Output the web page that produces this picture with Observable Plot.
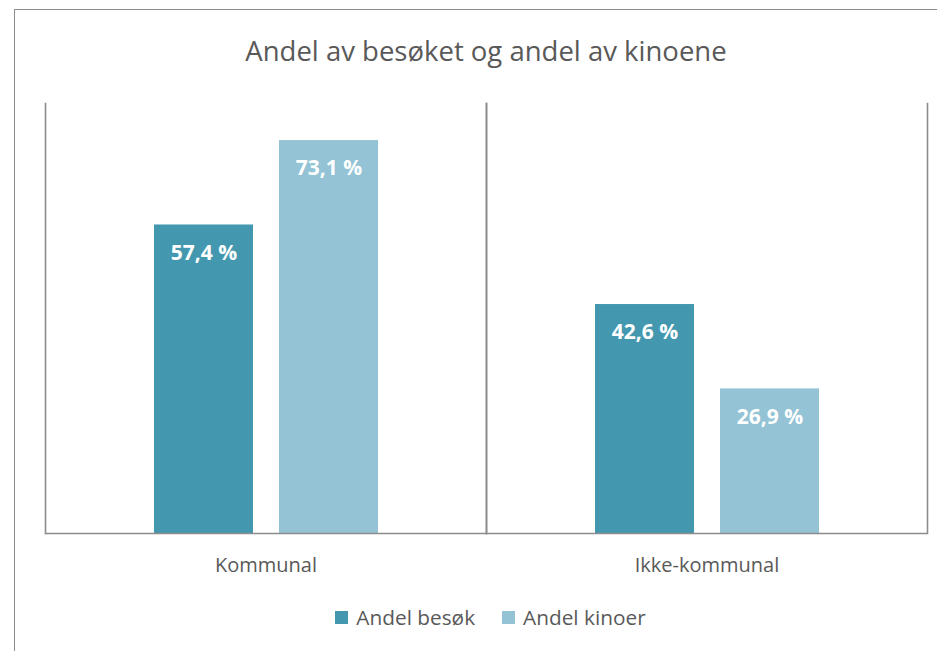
<!DOCTYPE html>
<html><head><meta charset="utf-8">
<script src="https://cdn.jsdelivr.net/npm/d3@7"></script>
<script src="https://cdn.jsdelivr.net/npm/@observablehq/plot@0.6"></script>
<style>
body{margin:0;overflow:hidden;background:#fff;font-family:"Open Sans",sans-serif;}
#wrap{position:relative;width:937px;height:651px;overflow:hidden;}
#border{position:absolute;left:14px;top:9px;width:1000px;height:1000px;border:1.6px solid #8c8c8c;box-sizing:border-box;}
#title{position:absolute;left:0;width:972px;top:37px;text-align:center;font-size:27.5px;line-height:27px;color:#595959;white-space:nowrap;}
#chart{position:absolute;left:0;top:0;}
#legend{position:absolute;left:0;width:981px;top:607px;display:flex;justify-content:center;gap:27px;font-size:20.8px;line-height:20px;color:#595959;}
#legend .item{display:flex;align-items:flex-end;gap:8px;}
#legend .sw{width:13px;height:13px;margin-bottom:3px;}
</style></head>
<body>
<div id="wrap">
  <div id="border"></div>
  <div id="title">Andel av besøket og andel av kinoene</div>
  <div id="chart"></div>
  <div id="legend"></div>
</div>
<script>
const categories = ["Kommunal", "Ikke-kommunal"];
const series = ["Andel besøk", "Andel kinoer"];
const besok = [57.4, 42.6];
const kinoer = [73.1, 26.9];
const colors = ["#4398B0", "#93C3D5"];

const data = [];
categories.forEach((c, i) => {
  data.push({cat: c, series: series[0], value: besok[i]});
  data.push({cat: c, series: series[1], value: kinoer[i]});
});
const fmt = v => v.toFixed(1).replace(".", ",") + " %";
const lineColor = "#8c8c8c";

const chart = Plot.plot({
  width: 937, height: 590,
  marginTop: 103, marginBottom: 57, marginLeft: 44, marginRight: 10,
  style: {fontFamily: "Open Sans", background: "transparent"},
  fx: {domain: categories, padding: 0, label: null},
  x: {domain: series, paddingInner: 0.208, paddingOuter: 0.868, axis: null},
  y: {domain: [0, 80], axis: null},
  color: {domain: series, range: colors},
  marks: [
    Plot.barY(data, {fx: "cat", x: "series", y: "value", fill: "series"}),
    Plot.text(data, {fx: "cat", x: "series", y: "value", text: d => fmt(d.value), dy: 28,
      fill: "white", fontWeight: "bold", fontSize: 21}),
    Plot.frame({anchor: "left", stroke: lineColor, strokeWidth: 1.6}),
    Plot.frame({anchor: "right", stroke: lineColor, strokeWidth: 1.6}),
    Plot.ruleY([0], {stroke: lineColor, strokeWidth: 1.6}),
    Plot.axisFx({anchor: "bottom", tickSize: 0, tickPadding: 24, fontSize: 20, fill: "#595959", label: null})
  ]
});
document.getElementById("chart").appendChild(chart);

const legend = document.getElementById("legend");
series.forEach((s, i) => {
  const item = document.createElement("div");
  item.className = "item";
  const sw = document.createElement("div");
  sw.className = "sw";
  sw.style.background = colors[i];
  const t = document.createElement("span");
  t.textContent = s;
  item.appendChild(sw); item.appendChild(t);
  legend.appendChild(item);
});
</script>
</body></html>
